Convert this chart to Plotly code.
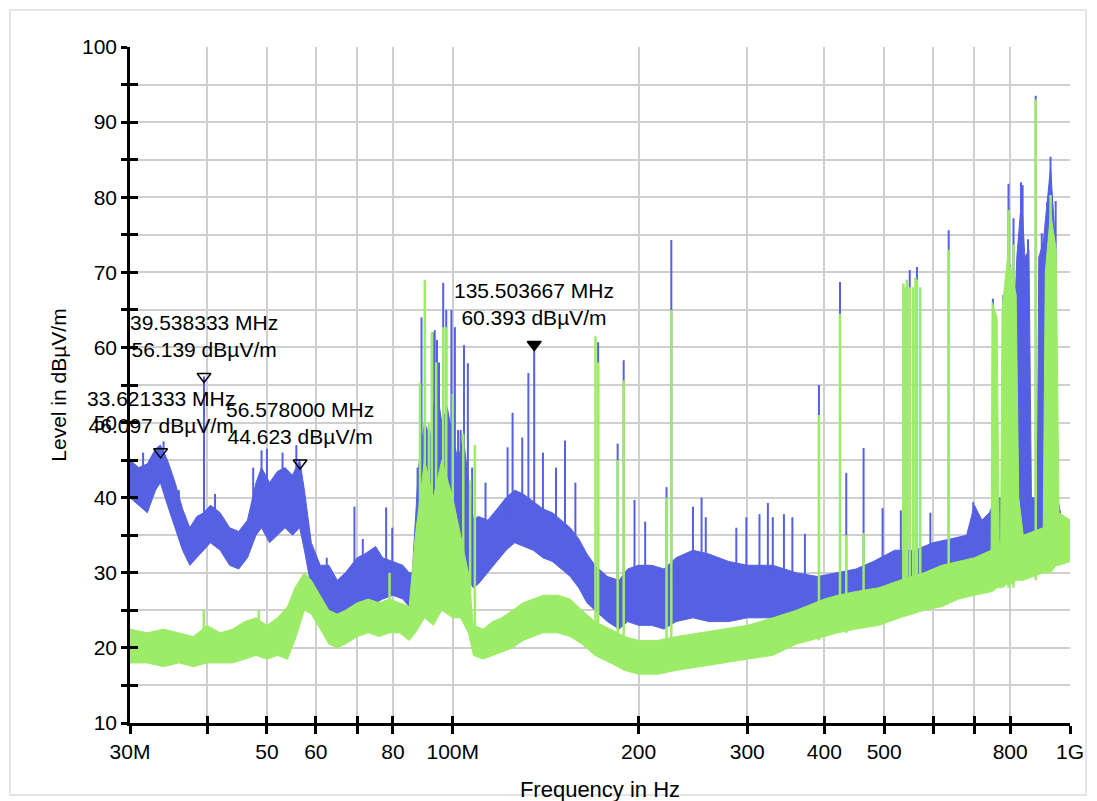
import numpy as np
import plotly.graph_objects as go

# ---------------- data ----------------
# frequency in MHz, level in dBµV/m
# blue (peak) trace: band envelope (freq, low, high)
BLUE_BAND = [
    (30, 40, 45), (31, 39, 44), (32, 38, 44.5), (33, 41, 46.5), (33.6, 42, 47),
    (34.5, 39, 45), (35.5, 36, 42), (36.5, 33, 38.5), (37.5, 31, 36), (38.5, 32, 37.5),
    (39.5, 33, 38), (40.5, 34, 39), (42, 33, 38), (43.5, 31, 36), (45, 30.5, 35.5),
    (46.5, 32, 37), (48, 35, 42), (49, 36, 44), (50.5, 34, 42), (52, 35, 43.5),
    (53.5, 36, 44), (55, 35, 43), (56.5, 36, 45), (57.5, 33, 41), (59, 28, 34),
    (61, 26, 31), (63, 24.5, 31), (65, 23.5, 29), (67, 24.5, 30), (70, 25.5, 32),
    (72, 26, 32.5), (75, 26, 33.5), (77, 26.5, 32), (80, 27, 31.5), (83, 26.5, 31),
    (85, 25.5, 30), (86, 25, 30), (88, 28, 44), (90, 30, 50), (92, 30, 48),
    (94, 30, 55), (96, 32, 50), (98, 32, 52), (100, 30, 48), (102, 30, 45),
    (104, 30, 48), (106, 29, 42), (108, 28, 37), (110, 28.5, 37.5), (114, 30, 37),
    (118, 31.5, 38.5), (122, 33, 40), (126, 34, 41), (130, 33.5, 40.5), (135, 33, 39.5),
    (140, 32, 38.5), (145, 31.5, 38), (150, 30.5, 37), (155, 29.5, 36), (160, 28, 34.5),
    (165, 26, 32.5), (170, 25, 31), (178, 23.5, 29.5), (186, 22.5, 29), (192, 23.5, 30.5),
    (200, 23, 31), (210, 23, 31), (220, 22.5, 30.5), (230, 23.5, 32), (245, 24, 33),
    (260, 23.5, 32.5), (280, 23.5, 31.5), (300, 24, 31), (330, 24, 31), (360, 24.5, 30),
    (390, 25, 29.5), (420, 26, 30), (450, 26.5, 30.5), (480, 27, 31.5), (520, 28, 33),
    (560, 28.5, 33), (600, 29, 34), (640, 30, 34.5), (680, 31, 35), (700, 32, 39),
    (720, 32, 37), (740, 32, 38), (760, 32, 40), (780, 33, 40), (790, 33, 50),
    (800, 33, 65), (810, 33, 60), (820, 34, 72), (835, 34, 80), (845, 34, 72),
    (858, 34, 73), (866, 34, 40), (885, 34, 40), (890, 34, 72), (905, 34, 74),
    (915, 34, 78), (930, 35, 84), (945, 35, 75), (955, 35, 40), (970, 34, 37),
    (1000, 34, 37),
]
# blue narrow peaks (freq, base, top)
BLUE_PEAKS = [
    (31.5, 40, 46), (34.0, 42, 47.5), (36.0, 36, 41), (41.2, 35, 40.5), (47.5, 35, 44),
    (50.0, 37, 46.5), (53.0, 38, 46), (55.8, 38, 47), (62.5, 27, 32), (71.5, 28, 34.5),
    (39.54, 37, 56.14), (49.0, 40, 46.3), (69.3, 30, 38.8), (78.0, 31, 38.7), (79.8, 30, 36),
    (87.7, 28, 44), (89.0, 30, 64), (92.8, 35, 62), (93.5, 35, 62.3), (94.3, 35, 61),
    (95, 35, 58), (96.5, 35, 68.6), (97.6, 35, 65), (99.5, 35, 65), (100.8, 35, 62.7),
    (102, 34, 49), (103, 34, 49), (104.3, 34, 60.3), (105.8, 34, 57.9), (107.5, 32, 44),
    (113, 34, 42), (122.7, 36, 46.7), (125, 37, 51.3), (129.6, 37, 48), (132.6, 36, 56.6),
    (135.5, 36, 60.39), (140, 36, 46), (147, 34, 44), (152, 33, 47.6), (158, 32, 42),
    (172, 28, 60.7), (185, 27, 47.2), (189.2, 27, 58.3), (197, 29, 39.7), (205, 29, 36.8),
    (222, 28, 41.4), (226, 28, 74.3), (245, 30, 38.8), (253, 30, 40), (257, 30, 37.4),
    (288, 29, 36), (299, 29, 37.4), (314, 29, 37.8), (324, 29, 39.3), (330, 29, 37.4),
    (344, 29, 37.8), (355, 28, 37.4), (372, 28, 35.2), (392, 28, 55), (424, 28, 68.7),
    (434, 29, 43.3), (463, 29, 46.6), (497, 30, 38.6), (532, 30, 38.3), (550, 32, 70.3),
    (565, 32, 70.7), (594, 31, 38), (636, 32, 75.6), (697, 33, 39.4), (750, 33, 66.5),
    (780, 33, 67), (795, 33, 81.8), (800, 33, 71), (810, 33, 77.2), (833, 34, 82),
    (838, 34, 81.6), (855, 34, 74.4), (880, 34, 93.5), (900, 34, 75.2), (918, 34, 79.3),
    (930, 35, 85.4), (940, 35, 76), (948, 35, 79.5),
]
# green (average) trace: band envelope (freq, low, high)
GREEN_BAND = [
    (30, 18, 22.5), (32, 18, 22), (34, 17.5, 22.5), (36, 18, 22), (38, 17.5, 21.5),
    (40, 18, 23), (42, 18, 22), (44, 18, 22.5), (46, 18.5, 23.5), (48, 19, 24),
    (50, 18.5, 23), (52, 19, 24), (54, 18.5, 25.5), (55.5, 21, 28), (57.5, 25, 30),
    (59, 24.5, 29), (61, 22.5, 27), (63, 20.5, 25), (65, 20, 24.5), (67, 20.5, 25),
    (70, 21.5, 26), (73, 22, 26.5), (76, 21.5, 26), (79, 22, 26.5), (82, 22, 26),
    (85, 21, 25.5), (87, 22, 35), (90, 24, 45), (93, 23, 40), (96, 25, 45),
    (100, 24, 40), (103, 24, 35), (106, 22, 30), (108, 19, 23), (112, 18.5, 22.5),
    (116, 19, 23.5), (120, 19.5, 24), (125, 20, 25), (130, 21, 26), (135, 21.5, 26.5),
    (140, 22, 27), (148, 22, 27), (155, 21.5, 26.5), (162, 20.5, 25), (170, 19, 23.5),
    (180, 18, 22.5), (190, 17, 21.5), (200, 16.5, 21), (215, 16.5, 21), (230, 17, 21.5),
    (250, 17.5, 22), (275, 18, 22.5), (300, 18.5, 23), (330, 19, 24), (360, 20.5, 25),
    (400, 21.5, 26.5), (420, 22, 27), (450, 22.5, 27.5), (490, 23, 28), (530, 24, 29),
    (580, 25, 30), (620, 25.5, 31), (660, 26.5, 31.5), (700, 27, 32), (745, 27.5, 33),
    (748, 27.5, 66), (762, 28, 64), (768, 28, 34), (772, 28, 34), (776, 28, 65),
    (792, 28.5, 72), (805, 28.5, 70), (818, 29, 67), (826, 29, 40), (840, 29, 35),
    (905, 30, 36), (912, 30, 70), (930, 30, 78), (950, 31, 73), (960, 31, 38),
    (1000, 31.5, 37),
]
# green narrow peaks (freq, base, top)
GREEN_PEAKS = [
    (39.5, 20, 25), (48.5, 20, 25), (79, 23, 30), (88.5, 24, 55.3), (90.1, 24, 69),
    (91.5, 24, 50), (92.5, 24, 62), (94, 24, 58), (96.5, 25, 62.7), (97.6, 25, 62.7),
    (100, 24, 53.8), (104, 24, 48.5), (106.7, 22, 42.3), (108.6, 20, 47), (170.3, 20, 61.5),
    (172, 20, 58), (185, 18, 45), (189.2, 18, 55.6), (222, 17, 40), (226, 17, 65),
    (392, 21, 51), (424, 22, 64.5), (434, 22, 35), (463, 23, 35.3), (537, 25, 68.5),
    (541, 25, 68), (544, 25, 69), (550, 25, 68), (557, 25, 68), (562, 25, 69.3),
    (565, 25, 69), (572, 25, 68), (636, 26, 73), (795, 28, 78.3), (810, 28, 73.7),
    (880, 29, 93), (930, 30, 80.3),
]
# markers
MARK_F = [33.621333, 39.538333, 56.578000, 135.503667]
MARK_L = [46.097, 56.139, 44.623, 60.393]
MARK_FILLED = [False, False, False, True]

X_TICKS = [30, 40, 50, 60, 70, 80, 100, 200, 300, 400, 500, 600, 700, 800, 1000]
X_LABELS = ["30M", "", "50", "60", "", "80", "100M", "200", "300", "400", "500", "", "", "800", "1G"]
Y_TICKS = list(range(10, 101, 5))
Y_LABELS = [str(v) if v % 10 == 0 else "" for v in Y_TICKS]

BLUE = "#5560E2"
GREEN = "#9CEC68"
FONT = "Liberation Sans, Arial, Helvetica, sans-serif"


def peak_lines(peaks):
    xs, ys = [], []
    for f, b, t in peaks:
        xs += [f, f, None]
        ys += [b, t, None]
    return xs, ys


fig = go.Figure()

# blue band
bf, blo, bhi = zip(*BLUE_BAND)
fig.add_trace(go.Scatter(x=bf, y=blo, mode="lines", line=dict(color=BLUE, width=1),
                         showlegend=False, hoverinfo="skip"))
fig.add_trace(go.Scatter(x=bf, y=bhi, mode="lines", line=dict(color=BLUE, width=1),
                         fill="tonexty", fillcolor=BLUE, showlegend=False, hoverinfo="skip"))
px, py = peak_lines(BLUE_PEAKS)
fig.add_trace(go.Scatter(x=px, y=py, mode="lines", line=dict(color=BLUE, width=2),
                         showlegend=False, hoverinfo="skip"))

# green band
gf, glo, ghi = zip(*GREEN_BAND)
fig.add_trace(go.Scatter(x=gf, y=glo, mode="lines", line=dict(color=GREEN, width=1),
                         showlegend=False, hoverinfo="skip"))
fig.add_trace(go.Scatter(x=gf, y=ghi, mode="lines", line=dict(color=GREEN, width=1),
                         fill="tonexty", fillcolor=GREEN, showlegend=False, hoverinfo="skip"))
px, py = peak_lines(GREEN_PEAKS)
fig.add_trace(go.Scatter(x=px, y=py, mode="lines", line=dict(color=GREEN, width=2.5),
                         showlegend=False, hoverinfo="skip"))

# markers
fig.add_trace(go.Scatter(
    x=MARK_F, y=MARK_L, mode="markers",
    marker=dict(symbol=["triangle-down" if m else "triangle-down-open" for m in MARK_FILLED],
                size=12, color="black", line=dict(color="black", width=1.5)),
    showlegend=False, hoverinfo="skip"))

# dummy trace for the overlay axes (inside half of the crossing ticks)
fig.add_trace(go.Scatter(x=[], y=[], xaxis="x2", yaxis="y2", showlegend=False))

for f, l in zip(MARK_F, MARK_L):
    fig.add_annotation(x=np.log10(f), y=l, xref="x", yref="y",
                       text=f"{f:.6f} MHz<br>{l:.3f} dBµV/m",
                       showarrow=False, yanchor="bottom", yshift=13,
                       font=dict(family=FONT, size=21, color="black"))

axis_common = dict(tickcolor="black", tickwidth=2.5)
fig.update_layout(
    width=1097, height=801,
    margin=dict(l=122, r=35, t=39, b=86),
    paper_bgcolor="white", plot_bgcolor="white",
    font=dict(family=FONT, color="black"),
    xaxis=dict(type="log", range=[np.log10(30), np.log10(1000)],
               tickvals=X_TICKS, ticktext=X_LABELS, ticks="outside", ticklen=8,
               showline=True, linecolor="black", linewidth=2.5,
               showgrid=True, gridcolor="#cfcfcf", gridwidth=1.5, zeroline=False,
               tickfont=dict(size=21),
               title=dict(text="Frequency in Hz", font=dict(size=22), standoff=20),
               **axis_common),
    yaxis=dict(range=[10, 100], tickvals=Y_TICKS, ticktext=Y_LABELS, ticks="outside", ticklen=6,
               showline=True, linecolor="black", linewidth=2.5,
               showgrid=True, gridcolor="#cfcfcf", gridwidth=1.5, zeroline=False,
               tickfont=dict(size=21),
               title=dict(text="Level in dBµV/m", font=dict(size=21), standoff=10),
               **axis_common),
    xaxis2=dict(type="log", range=[np.log10(30), np.log10(1000)], overlaying="x", anchor="y",
                side="bottom", tickvals=X_TICKS, ticks="inside", ticklen=7, showticklabels=False,
                showgrid=False, showline=False, zeroline=False, **axis_common),
    yaxis2=dict(range=[10, 100], overlaying="y", anchor="x", side="left", tickvals=Y_TICKS,
                ticks="inside", ticklen=8, showticklabels=False, showgrid=False, showline=False,
                zeroline=False, **axis_common),
    shapes=[dict(type="rect", xref="paper", yref="paper",
                 x0=-0.1277, x1=1.017, y0=-0.1065, y1=1.0547,
                 line=dict(color="#dcdcdc", width=1.5), layer="below")],
)

fig.write_html("out.html")
